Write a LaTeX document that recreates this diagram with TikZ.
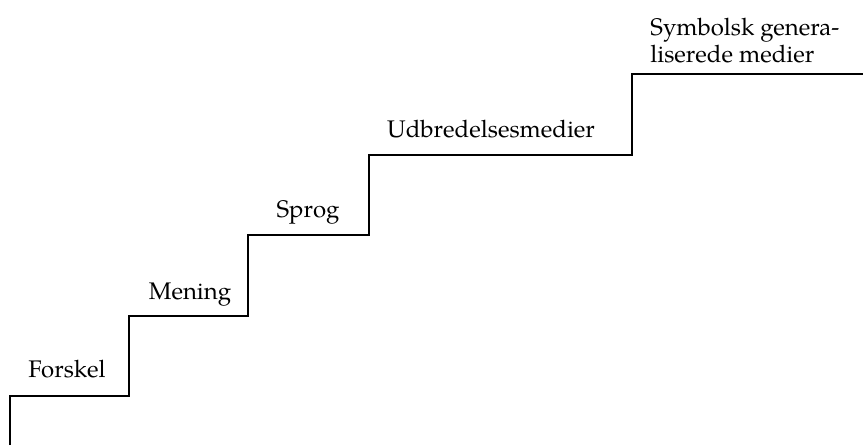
\documentclass[tikz,border=0pt]{standalone}
\usepackage{fontspec}
\setmainfont{TeX Gyre Pagella}
\begin{document}
\begin{tikzpicture}[x=0.5pt,y=-0.5pt,
  stair/.style={line width=1pt,line join=miter},
  lbl/.style={anchor=base,inner sep=0pt,font=\fontsize{12}{14}\selectfont}]
\useasboundingbox (0,0) rectangle (863,445);
% corners of the staircase
\coordinate (s0) at (10,445);
\coordinate (s1) at (10,396);
\coordinate (s2) at (129,396);
\coordinate (s3) at (129,316);
\coordinate (s4) at (248,316);
\coordinate (s5) at (248,235);
\coordinate (s6) at (369,235);
\coordinate (s7) at (369,155);
\coordinate (s8) at (632,155);
\coordinate (s9) at (632,74);
\coordinate (s10) at (864,74);
\draw[stair] (s0)--(s1)--(s2)--(s3)--(s4)--(s5)--(s6)--(s7)--(s8)--(s9)--(s10);
% step labels
\node[lbl] (forskel) at (67,377) {Forskel};
\node[lbl] (mening) at (190,299) {Mening};
\node[lbl] (sprog) at (308,217) {Sprog};
\node[lbl] (udbr) at (491,137) {Udbredelsesmedier};
\node[lbl,anchor=base west] (sym1) at (650,35) {Symbolsk genera-};
\node[lbl,anchor=base west] (sym2) at (650,62) {liserede medier};
\end{tikzpicture}
\end{document}
